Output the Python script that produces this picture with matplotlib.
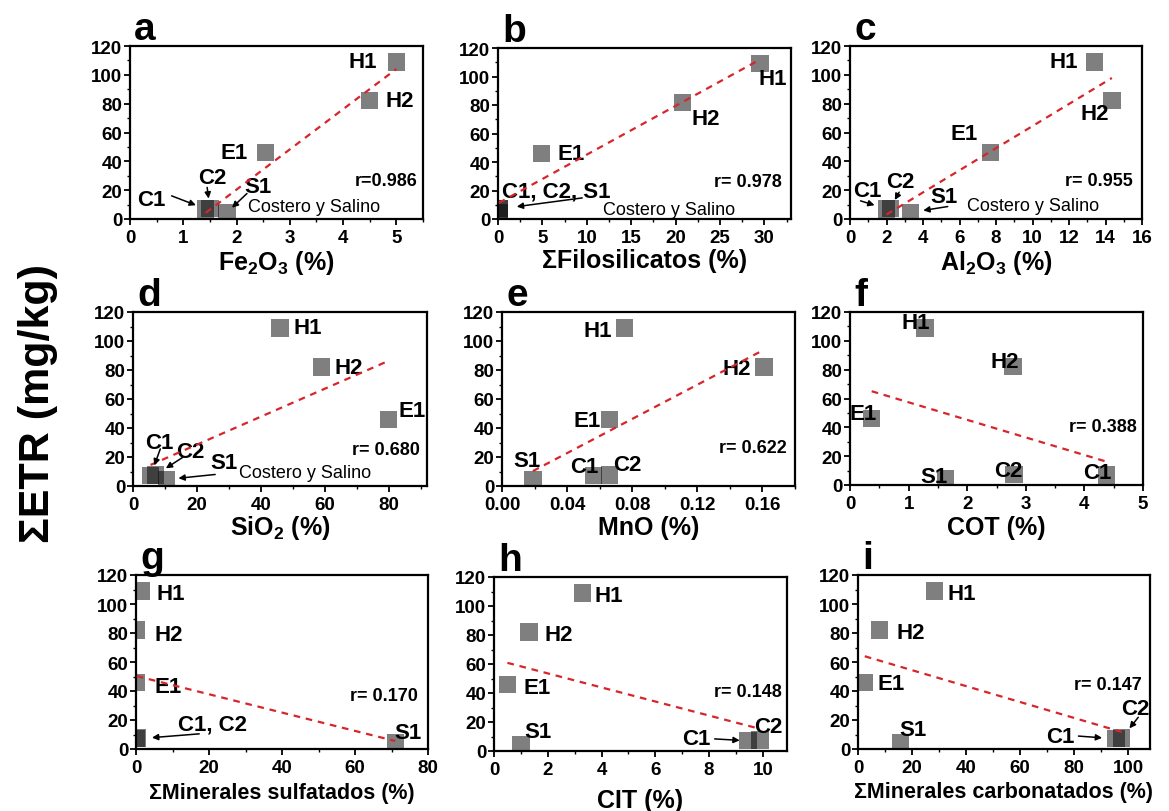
import matplotlib
matplotlib.use("Agg")
import matplotlib.pyplot as plt
import numpy as np
from matplotlib.ticker import MultipleLocator, FormatStrFormatter

plt.rcParams['font.family'] = ['Liberation Sans', 'DejaVu Sans']
plt.rcParams['font.weight'] = 'bold'
plt.rcParams['mathtext.fontset'] = 'custom'
plt.rcParams['mathtext.rm'] = 'Liberation Sans:bold'
plt.rcParams['mathtext.it'] = 'Liberation Sans:bold'
plt.rcParams['mathtext.bf'] = 'Liberation Sans:bold'
plt.rcParams['mathtext.default'] = 'regular'

# Muestras y ΣETR (mg/kg)
muestras = ['H1', 'H2', 'E1', 'C1', 'C2', 'S1']
setr = [109, 82, 46, 7, 7.5, 4.5]

# Variables (%) en el mismo orden que las muestras
fe2o3 = [5.0, 4.5, 2.55, 1.42, 1.5, 1.82]
filosilicatos = [29.5, 20.8, 4.9, 0.1, 0.2, 0.1]
al2o3 = [13.4, 14.35, 7.7, 2.0, 2.2, 3.3]
sio2 = [46, 59, 80, 5.5, 7, 10.5]
mno = [0.0754, 0.161, 0.066, 0.056, 0.066, 0.019]
cot = [1.28, 2.78, 0.37, 4.375, 2.8, 1.63]
sulfatados = [1.5, 0.2, 0.2, 0.2, 0.3, 71]
cit = [3.3, 1.3, 0.5, 9.45, 9.9, 1.0]
carbonatados = [28.4, 8, 2.5, 95.4, 97.5, 15.8]

r_textos = ['r=0.986', 'r= 0.978', 'r= 0.955', 'r= 0.680', 'r= 0.622',
            'r= 0.388', 'r= 0.170', 'r= 0.148', 'r= 0.147']

W, H = 1169, 812


def px_box(l, t, r, b):
    return [l / W, 1 - b / H, (r - l) / W, (b - t) / H]


# Configuración de cada panel: etiquetas (dx, dy en puntos, ha), flechas (dx, dy, shrink)
paneles = [
    dict(letra='a', x=fe2o3, xlabel='Fe$_2$O$_3$ (%)', box=(130, 47, 423, 220),
         xlim=(0, 5.5), major=1, minor=0.5, fmt='%d', r_pos=(0.98, 0.22), lsize=18, lpad=1,
         etiquetas={'H1': (-13.7, 0, 'right'), 'H2': (11, 0, 'left'), 'E1': (-13, 0, 'right'),
                    'C1': (-39, 6.5, 'center'), 'C2': (1.5, 22, 'center'), 'S1': (22, 19, 'center')},
         flechas={'C1': (-24.5, 9.4, 7.5), 'C2': (-2, 15, 7), 'S1': (14.4, 13.7, 5)},
         costero=('S1', 15, 4)),
    dict(letra='b', x=filosilicatos, xlabel='ΣFilosilicatos (%)', box=(498, 49, 791, 220),
         xlim=(0, 33), major=5, minor=2.5, fmt='%d', r_pos=(0.97, 0.22), lsize=18, lpad=1,
         etiquetas={'H1': (-1, -11, 'left'), 'H2': (6.5, -12, 'left'), 'E1': (11.5, 0, 'left')},
         grupo=('C1', 'C1, C2, S1', (2, 13, 'left')),
         flechas={'C1': (60, 8, 13)},
         costero=('C1', 75, 0)),
    dict(letra='c', x=al2o3, xlabel='Al$_2$O$_3$ (%)', box=(850, 47, 1142, 220),
         xlim=(0, 16), major=2, minor=1, fmt='%d', r_pos=(0.97, 0.22), lsize=18, lpad=1,
         etiquetas={'H1': (-12, 0, 'right'), 'H2': (-12, -9, 'center'), 'E1': (-9.5, 14, 'right'),
                    'C1': (-14, 13, 'center'), 'C2': (7, 19, 'center'), 'S1': (24, 11.5, 'center')},
         flechas={'C1': (-18.7, 5.8, 9), 'C2': (6.5, 11.5, 6.8), 'S1': (27, 4.3, 9.5)},
         costero=('S1', 41, 5)),
    dict(letra='d', x=sio2, xlabel='SiO$_2$ (%)', box=(133, 313, 427, 487),
         xlim=(0, 92), major=20, minor=10, fmt='%d', r_pos=(0.976, 0.21), lsize=18, lpad=0,
         etiquetas={'H1': (10, 0, 'left'), 'H2': (9.5, 0, 'left'), 'E1': (7, 6, 'left'),
                    'C1': (6, 24, 'center'), 'C2': (25, 17, 'center'), 'S1': (41, 12, 'center')},
         flechas={'C1': (7, 19.4, 8), 'C2': (20, 13, 9), 'S1': (35, 3.6, 8.6)},
         costero=('S1', 52, 5)),
    dict(letra='e', x=mno, xlabel='MnO (%)', box=(502, 313, 795, 487),
         xlim=(0, 0.18), major=0.04, minor=0.02, fmt='%.2f', r_pos=(0.973, 0.224), lsize=18, lpad=1,
         etiquetas={'H1': (-9, -2, 'right'), 'H2': (-9.5, -1, 'right'), 'E1': (-6, -1, 'right'),
                    'S1': (-4, 14, 'center'), 'C1': (-6.5, 7, 'center'), 'C2': (13, 8, 'center')}),
    dict(letra='f', x=cot, xlabel='COT (%)', box=(850, 313, 1143, 486),
         xlim=(0, 5), major=1, minor=0.5, fmt='%d', r_pos=(0.98, 0.34), lsize=18, lpad=2,
         etiquetas={'H1': (-7, 4, 'center'), 'H2': (-6, 3.5, 'center'), 'E1': (-6.5, 3.5, 'center'),
                    'S1': (-8, 1.5, 'center'), 'C2': (-4.5, 3, 'center'), 'C1': (-6.5, 2, 'center')}),
    dict(letra='g', x=sulfatados, xlabel='ΣMinerales sulfatados (%)', box=(136, 576, 428, 750),
         xlim=(0, 80), major=20, minor=10, fmt='%d', r_pos=(0.966, 0.305), lsize=15.5, lpad=4,
         etiquetas={'H1': (11, -2, 'left'), 'H2': (13, -3.5, 'left'), 'E1': (13, -3, 'left'),
                    'S1': (9.5, 7, 'center')},
         grupo=('C1', 'C1, C2', (29.5, 11, 'left')),
         flechas={'C1': (45, 3.6, 11)}),
    dict(letra='h', x=cit, xlabel='CIT (%)', box=(494, 578, 787, 752),
         xlim=(0, 10.9), major=2, minor=1, fmt='%d', r_pos=(0.983, 0.34), lsize=18, lpad=7,
         etiquetas={'H1': (8.5, -1.5, 'left'), 'H2': (11.5, -1.5, 'left'), 'E1': (11.5, -2, 'left'),
                    'S1': (12, 9.5, 'center'), 'C1': (-27, 1.4, 'right'), 'C2': (6, 10, 'center')},
         flechas={'C1': (-24, 1.4, 6)}),
    dict(letra='i', x=carbonatados, xlabel='ΣMinerales carbonatados (%)', box=(858, 576, 1150, 750),
         xlim=(0, 108), major=20, minor=10, fmt='%d', r_pos=(0.973, 0.37), lsize=15.5, lpad=3,
         etiquetas={'H1': (9.5, -2, 'left'), 'H2': (12, -2, 'left'), 'E1': (9.5, -1, 'left'),
                    'S1': (8.5, 9.5, 'center'), 'C1': (-29.5, 1.5, 'right'), 'C2': (10, 21, 'center')},
         flechas={'C1': (-27, 2, 10), 'C2': (12, 15, 9)}),
]

fig = plt.figure(figsize=(W / 100, H / 100), dpi=100)

for p, r_txt in zip(paneles, r_textos):
    ax = fig.add_axes(px_box(*p['box']))
    x = np.array(p['x'], dtype=float)
    y = np.array(setr, dtype=float)

    ax.scatter(x, y, marker='s', s=155, color='black', alpha=0.5,
               edgecolors='none', zorder=3)

    # recta de regresión lineal
    m, b = np.polyfit(x, y, 1)
    xs = np.array([x.min(), x.max()])
    ax.plot(xs, m * xs + b, color='#d7262b', lw=1.6, dashes=(3, 2.6), zorder=4)

    for nombre, (dx, dy, ha) in p['etiquetas'].items():
        i = muestras.index(nombre)
        ax.annotate(nombre, (x[i], y[i]), xytext=(dx, dy), textcoords='offset points',
                    ha=ha, va='center', fontsize=16, fontweight='bold', zorder=2)
    if 'grupo' in p:
        ref, texto, (dx, dy, ha) = p['grupo']
        i = muestras.index(ref)
        ax.annotate(texto, (x[i], y[i]), xytext=(dx, dy), textcoords='offset points',
                    ha=ha, va='center', fontsize=16, fontweight='bold', zorder=2)
    for nombre, (dx, dy, shr) in p.get('flechas', {}).items():
        i = muestras.index(nombre)
        ax.annotate('', (x[i], y[i]), xytext=(dx, dy), textcoords='offset points',
                    arrowprops=dict(arrowstyle='-|>', color='black', lw=1.1,
                                    mutation_scale=9, shrinkA=0, shrinkB=shr),
                    annotation_clip=False, zorder=5)
    if 'costero' in p:
        ref, dx, dy = p['costero']
        i = muestras.index(ref)
        ax.annotate('Costero y Salino', (x[i], y[i]), xytext=(dx, dy),
                    textcoords='offset points', ha='left', va='center',
                    fontsize=13, fontweight='normal')

    ax.text(p['r_pos'][0], p['r_pos'][1], r_txt, transform=ax.transAxes,
            ha='right', va='center', fontsize=13, fontweight='bold')

    ax.set_xlim(*p['xlim'])
    ax.set_ylim(0, 120)
    ax.xaxis.set_major_locator(MultipleLocator(p['major']))
    ax.xaxis.set_minor_locator(MultipleLocator(p['minor']))
    ax.xaxis.set_major_formatter(FormatStrFormatter(p['fmt']))
    ax.yaxis.set_major_locator(MultipleLocator(20))
    ax.yaxis.set_minor_locator(MultipleLocator(10))
    ax.tick_params(which='major', direction='out', length=4, width=1.3,
                   labelsize=13.5, pad=1.5)
    ax.tick_params(axis='x', which='major', pad=3.5)
    ax.tick_params(which='minor', direction='out', length=2.5, width=1.0)
    for lab in ax.get_xticklabels() + ax.get_yticklabels():
        lab.set_fontweight('bold')
    for sp in ax.spines.values():
        sp.set_linewidth(1.6)

    ax.set_xlabel(p['xlabel'], fontsize=p['lsize'], fontweight='bold', labelpad=p['lpad'])
    ax.annotate(p['letra'], (0, 1), xycoords='axes fraction', xytext=(3, 5),
                textcoords='offset points', ha='left', va='baseline',
                fontsize=28, fontweight='bold')

fig.text(38 / W, 0.503, 'ΣETR (mg/kg)', rotation=90, ha='center', va='center',
         fontsize=31, fontweight='bold')

fig.savefig('out.png', dpi=100)
